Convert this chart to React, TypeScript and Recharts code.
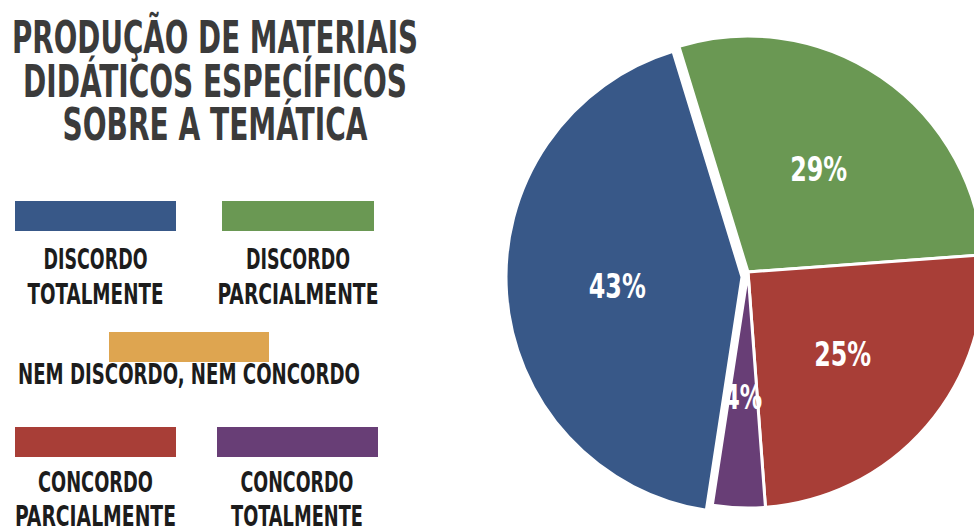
import React from 'react';
import { PieChart, Pie, Cell } from 'recharts';

const categories = [
  'DISCORDO TOTALMENTE',
  'DISCORDO PARCIALMENTE',
  'NEM DISCORDO, NEM CONCORDO',
  'CONCORDO PARCIALMENTE',
  'CONCORDO TOTALMENTE',
];
const legendLines = [
  ['DISCORDO', 'TOTALMENTE'],
  ['DISCORDO', 'PARCIALMENTE'],
  ['NEM DISCORDO, NEM CONCORDO'],
  ['CONCORDO', 'PARCIALMENTE'],
  ['CONCORDO', 'TOTALMENTE'],
];
const shares = [42.9, 28.6, 0, 25.0, 3.6];
const colors = ['#385888', '#6a9853', '#dea550', '#a83e37', '#683e76'];
const titleLines = ['PRODUÇÃO DE MATERIAIS', 'DIDÁTICOS ESPECÍFICOS', 'SOBRE A TEMÁTICA'];

const data = categories.map((name, i) => ({ name, value: shares[i] }));

const FONT = "'Liberation Sans Narrow', 'DejaVu Sans Condensed', 'Roboto', sans-serif";
const RAD = Math.PI / 180;

const titleLayout = [
  { base: 53, len: 406 },
  { base: 97, len: 384 },
  { base: 140, len: 305 },
];
const legendLayout = [
  { x: 15, w: 161, y: 201, cx: 95.5, base: [269, 304], len: [104, 136] },
  { x: 222, w: 152, y: 201, cx: 298, base: [269, 304], len: [104, 161] },
  { x: 109, w: 160, y: 332, cx: 189, base: [384], len: [342] },
  { x: 15, w: 161, y: 427, cx: 95.5, base: [492, 526], len: [115, 161] },
  { x: 217, w: 161, y: 427, cx: 297, base: [492, 526], len: [113, 132] },
];

const makeLabel = (visible: (i: number) => boolean) => (props: any) => {
  const { cx, cy, midAngle, outerRadius, value, index } = props;
  if (!visible(index) || !value) return null;
  const r = outerRadius * 0.53;
  const x = cx + r * Math.cos(-midAngle * RAD);
  const y = cy + r * Math.sin(-midAngle * RAD);
  const txt = `${Math.round(value)}%`;
  return (
    <text
      key={`lbl-${index}`}
      x={x}
      y={y}
      fill="#ffffff"
      textAnchor="middle"
      dominantBaseline="central"
      fontFamily={FONT}
      fontWeight={700}
      fontSize={34}
      textLength={txt.length * 19}
      lengthAdjust="spacingAndGlyphs"
    >
      {txt}
    </text>
  );
};

const START = -98.7;
const END = START - 360;

export default function App() {
  return (
    <div style={{ position: 'absolute', left: 0, top: 0, width: 974, height: 529, background: '#ffffff', overflow: 'hidden' }}>
      <div style={{ position: 'absolute', left: 0, top: 0 }}>
        <PieChart width={974} height={529} margin={{ top: 0, right: 0, bottom: 0, left: 0 }}>
          <Pie
            data={data}
            dataKey="value"
            nameKey="name"
            cx={742}
            cy={277}
            outerRadius={236}
            startAngle={START}
            endAngle={END}
            stroke="none"
            isAnimationActive={false}
            labelLine={false}
            label={makeLabel((i) => i === 0)}
          >
            {data.map((d, i) => (
              <Cell key={`b-${i}`} fill={i === 0 ? colors[i] : 'transparent'} stroke={i === 0 ? '#ffffff' : 'none'} strokeWidth={3} />
            ))}
          </Pie>
          <Pie
            data={data}
            dataKey="value"
            nameKey="name"
            cx={748}
            cy={272}
            outerRadius={236}
            startAngle={START}
            endAngle={END}
            isAnimationActive={false}
            labelLine={false}
            label={makeLabel((i) => i !== 0)}
          >
            {data.map((d, i) => (
              <Cell
                key={`a-${i}`}
                fill={i === 0 ? 'transparent' : colors[i]}
                stroke={i === 0 || d.value === 0 ? 'none' : '#ffffff'}
                strokeWidth={3}
              />
            ))}
          </Pie>
        </PieChart>
      </div>
      <svg width={430} height={529} style={{ position: 'absolute', left: 0, top: 0 }}>
        {titleLines.map((t, i) => (
          <text
            key={`t-${i}`}
            x={215}
            y={titleLayout[i].base}
            textAnchor="middle"
            fontFamily={FONT}
            fontWeight={700}
            fontSize={44}
            fill="#3b3b3b"
            textLength={titleLayout[i].len}
            lengthAdjust="spacingAndGlyphs"
          >
            {t}
          </text>
        ))}
        {legendLines.map((lines, i) => {
          const L = legendLayout[i];
          return (
            <g key={`lg-${i}`}>
              <rect x={L.x} y={L.y} width={L.w} height={30} fill={colors[i]} />
              {lines.map((ln, j) => (
                <text
                  key={`lt-${j}`}
                  x={L.cx}
                  y={L.base[j]}
                  textAnchor="middle"
                  fontFamily={FONT}
                  fontWeight={700}
                  fontSize={29}
                  fill="#1c1c1c"
                  textLength={L.len[j]}
                  lengthAdjust="spacingAndGlyphs"
                >
                  {ln}
                </text>
              ))}
            </g>
          );
        })}
      </svg>
    </div>
  );
}
